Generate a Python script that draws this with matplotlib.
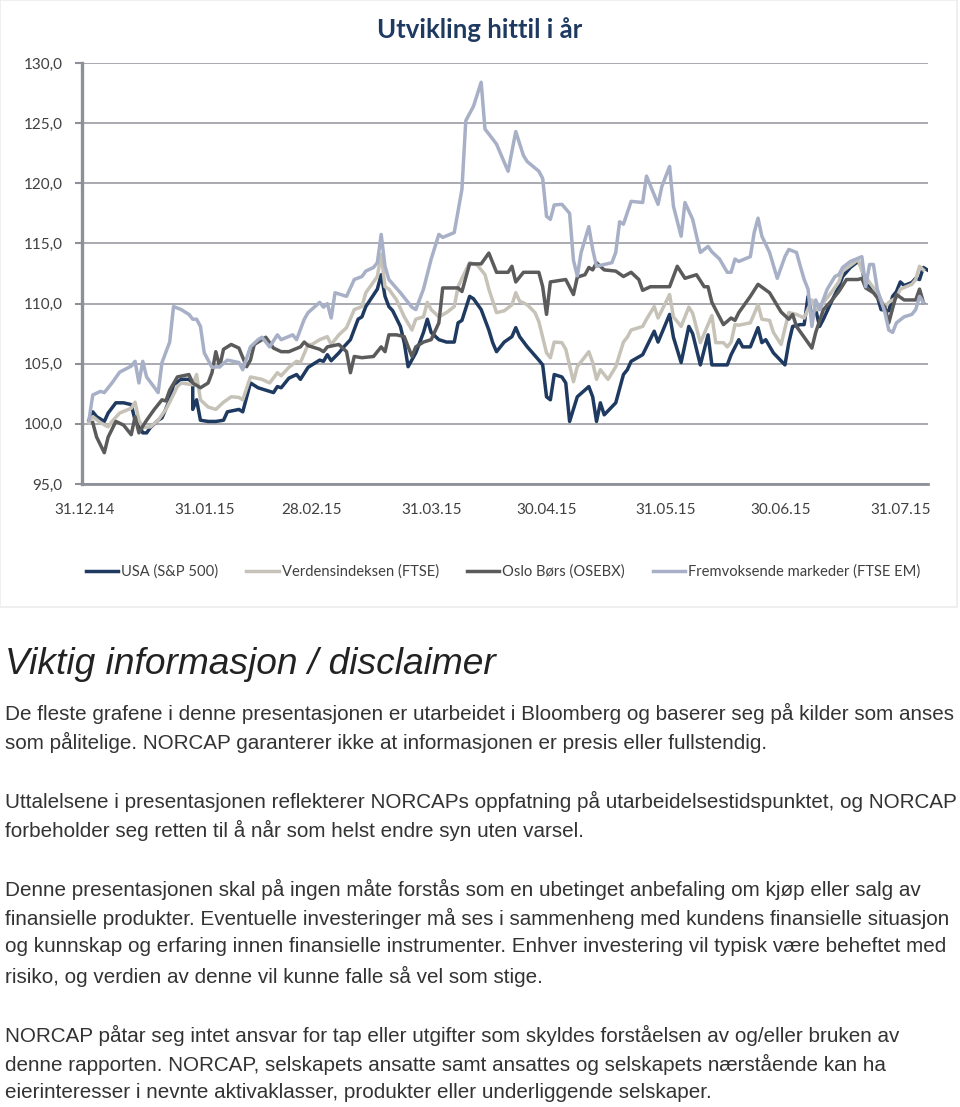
import datetime as dt

import matplotlib

matplotlib.use("Agg")
import matplotlib.pyplot as plt
from matplotlib.lines import Line2D
from matplotlib.patches import Rectangle

START = dt.datetime(2014, 12, 31)

# day offsets from 31.12.14 and index values
usa_days = [1, 2, 3, 5, 6, 8, 10, 12, 13, 14, 15, 16, 17, 19, 20, 22, 23, 25, 27, 28, 28, 29, 30,
            32, 34, 36, 37, 40, 41, 43, 45, 47, 49, 50, 51, 53, 55, 56, 58, 59, 61, 62, 63, 64,
            66, 67, 69, 71, 72, 73, 76, 77, 78, 79, 80, 82, 83, 84, 86, 88, 89, 90, 92, 94, 96,
            97, 98, 100, 101, 103, 105, 106, 107, 109, 111, 112, 113, 115, 118, 119, 120, 121,
            122, 124, 125, 126, 128, 131, 132, 133, 134, 135, 138, 140, 141, 142, 145, 146, 148,
            149, 152, 153, 155, 157, 158, 160, 162, 163, 167, 168, 170, 171, 173, 175, 176, 177,
            179, 182, 183, 184, 186, 187, 188, 189, 190, 191, 192, 194, 196, 197, 199, 201, 202,
            203, 204, 206, 207, 209, 210, 211, 212, 213, 215, 216, 217, 218, 219]
usa_vals = [100.3, 101.0, 100.6, 100.2, 100.9, 101.75, 101.75, 101.6, 100.3, 100.0, 99.25, 99.25,
            99.7, 100.3, 100.5, 102.0, 103.25, 103.7, 103.7, 103.4, 101.2, 102.0, 100.3, 100.2,
            100.2, 100.3, 101.0, 101.2, 101.0, 103.4, 103.0, 102.8, 102.6, 103.1, 103.0, 103.8,
            104.1, 103.7, 104.7, 104.9, 105.3, 105.2, 105.75, 105.25, 105.9, 106.3, 107.0, 108.7,
            108.9, 109.75, 111.2, 112.4, 110.6, 109.75, 109.4, 108.1, 106.75, 104.75, 105.9, 107.6,
            108.7, 107.6, 107.0, 106.8, 106.8, 108.4, 108.6, 110.6, 110.4, 109.5, 107.8, 106.75,
            106.0, 106.8, 107.25, 108.0, 107.25, 106.4, 105.3, 104.9, 102.25, 102.0, 104.1, 103.9,
            103.4, 100.2, 102.25, 103.1, 102.25, 100.2, 101.75, 100.75, 101.75, 104.1, 104.5,
            105.2, 105.75, 106.4, 107.7, 106.8, 109.1, 107.2, 105.1, 108.1, 107.5, 104.9, 107.4,
            104.9, 104.9, 105.75, 107.0, 106.4, 106.4, 108.0, 106.75, 107.0, 105.9, 104.9, 106.75,
            108.1, 108.25, 108.25, 110.6, 108.9, 109.5, 108.1, 108.7, 110.1, 111.4, 112.25, 113.0,
            113.5, 113.0, 111.4, 111.5, 110.6, 109.5, 109.4, 110.6, 111.0, 111.8, 111.5, 111.75,
            112.1, 112.0, 113.0, 112.8]

world_days = [1, 2, 4, 6, 7, 9, 12, 13, 14, 15, 17, 19, 21, 22, 24, 25, 28, 29, 30, 32, 33, 34,
              36, 38, 40, 41, 43, 46, 48, 50, 51, 53, 55, 56, 58, 59, 61, 63, 64, 66, 68, 70, 72,
              73, 76, 77, 78, 79, 81, 83, 85, 86, 88, 89, 90, 92, 94, 96, 97, 98, 100, 102, 104,
              105, 107, 109, 111, 112, 113, 115, 117, 118, 120, 121, 122, 124, 125, 127, 128, 131,
              132, 133, 134, 136, 138, 140, 141, 142, 145, 146, 148, 149, 152, 153, 155, 157, 158,
              160, 163, 164, 166, 167, 168, 169, 170, 173, 175, 176, 178, 179, 181, 183, 185, 187,
              189, 190, 191, 192, 194, 196, 197, 200, 201, 202, 204, 206, 208, 209, 211, 212, 215,
              216, 217, 218]
world_vals = [100.1, 100.6, 100.1, 99.75, 100.2, 100.9, 101.3, 101.8, 100.3, 99.7, 99.75, 100.3,
              101.2, 101.8, 103.1, 103.4, 103.25, 104.1, 102.0, 101.4, 101.3, 101.2, 101.8, 102.25,
              102.2, 102.0, 103.9, 103.7, 103.4, 104.25, 104.0, 104.7, 105.2, 105.1, 106.6, 106.6,
              107.0, 107.25, 106.6, 107.4, 108.0, 109.5, 109.75, 110.9, 112.25, 114.1, 111.4,
              111.2, 110.3, 108.9, 107.8, 108.7, 108.9, 110.1, 109.5, 108.9, 109.25, 109.75, 111.4,
              112.1, 113.4, 113.2, 112.4, 111.2, 109.25, 109.4, 109.9, 110.9, 110.2, 109.9, 109.25,
              108.5, 105.9, 105.5, 106.8, 106.75, 106.2, 103.5, 104.75, 106.0, 105.1, 103.7, 104.5,
              103.7, 104.75, 106.8, 107.2, 107.8, 108.1, 108.7, 109.75, 108.8, 110.75, 108.9, 108.1,
              109.7, 109.2, 106.75, 109.0, 106.75, 106.75, 106.4, 106.8, 108.25, 108.2, 108.4,
              109.9, 108.7, 108.6, 107.6, 106.6, 109.25, 109.1, 108.8, 110.3, 109.5, 109.5, 110.1,
              110.9, 111.8, 112.7, 113.4, 113.7, 112.7, 111.75, 110.9, 109.7, 110.1, 110.5, 111.2,
              111.6, 112.0, 113.1, 112.8]

oslo_days = [2, 3, 5, 6, 8, 10, 12, 13, 14, 15, 16, 18, 20, 21, 22, 24, 27, 28, 30, 32, 33, 34,
             35, 36, 38, 40, 42, 43, 44, 46, 47, 49, 51, 53, 56, 57, 58, 61, 62, 63, 66, 68, 69, 70,
             72, 75, 77, 78, 79, 81, 83, 85, 86, 88, 90, 92, 93, 97, 98, 100, 103, 105, 107, 110,
             111, 112, 114, 118, 119, 120, 121, 125, 127, 128, 130, 131, 132, 133, 135, 138, 140,
             142, 144, 145, 147, 152, 154, 156, 159, 161, 162, 163, 166, 168, 169, 170, 173, 175,
             178, 181, 183, 184, 185, 187, 189, 190, 192, 194, 196, 198, 201, 202, 203, 205, 206,
             208, 209, 210, 211, 213, 216, 217, 218]
oslo_vals = [100.1, 98.9, 97.6, 98.9, 100.2, 99.9, 99.1, 100.6, 99.25, 99.8, 100.3, 101.2, 102.0,
             101.9, 102.8, 103.9, 104.1, 103.4, 103.0, 103.4, 104.25, 106.0, 104.75, 106.2, 106.6,
             106.3, 104.75, 105.3, 106.6, 107.0, 107.2, 106.3, 106.0, 106.0, 106.4, 106.8, 106.5,
             106.2, 106.0, 106.4, 106.6, 106.0, 104.25, 105.6, 105.5, 105.6, 106.4, 106.0, 107.4,
             107.4, 107.25, 105.6, 106.4, 106.8, 107.0, 108.4, 111.3, 111.3, 111.0, 113.3, 113.3,
             114.2, 112.6, 112.6, 113.1, 111.8, 112.6, 112.6, 111.4, 109.1, 111.8, 112.0, 110.75,
             112.2, 112.4, 113.0, 112.8, 113.4, 112.8, 112.7, 112.25, 112.6, 112.0, 111.1, 111.4,
             111.4, 113.1, 112.1, 112.4, 111.4, 111.4, 110.1, 108.25, 108.8, 108.6, 109.25, 110.6,
             111.6, 110.9, 109.3, 108.7, 109.1, 108.1, 107.2, 106.3, 107.6, 109.5, 110.2, 111.0,
             112.0, 112.0, 112.1, 111.3, 110.9, 110.5, 109.7, 108.4, 109.6, 110.75, 110.3, 110.3,
             111.2, 110.1]

em_days = [1, 2, 4, 5, 7, 9, 12, 13, 14, 15, 16, 19, 20, 22, 23, 25, 27, 28, 29, 30, 31, 33, 35,
           37, 40, 41, 43, 45, 46, 48, 50, 51, 54, 55, 57, 58, 61, 62, 63, 64, 65, 68, 70, 72, 73,
           75, 76, 77, 78, 79, 82, 85, 86, 88, 90, 92, 93, 96, 98, 99, 101, 103, 104, 105, 107,
           110, 112, 114, 115, 118, 119, 120, 121, 122, 124, 126, 127, 128, 129, 131, 132, 133,
           135, 137, 138, 139, 140, 142, 145, 146, 149, 150, 152, 153, 155, 156, 158, 160, 162,
           163, 165, 167, 168, 169, 170, 173, 174, 175, 176, 178, 180, 182, 183, 185, 186, 187,
           188, 189, 190, 191, 193, 195, 196, 197, 199, 202, 203, 204, 205, 206, 208, 209, 210,
           211, 213, 215, 216, 217, 218]
em_vals = [100.3, 102.4, 102.7, 102.6, 103.4, 104.3, 104.8, 105.2, 103.4, 105.2, 103.9, 102.6,
           105.1, 106.8, 109.75, 109.5, 109.1, 108.7, 108.7, 108.1, 105.9, 104.7, 104.75, 105.3,
           105.1, 104.5, 106.4, 107.0, 107.2, 106.4, 107.4, 107.0, 107.4, 107.0, 108.7, 109.25,
           110.1, 109.7, 110.0, 108.8, 110.9, 110.6, 112.0, 112.25, 112.7, 113.0, 113.4, 115.75,
           113.1, 112.0, 110.9, 109.7, 109.5, 111.2, 113.7, 115.75, 115.5, 115.9, 119.5, 125.2,
           126.4, 128.4, 124.5, 124.1, 123.25, 121.0, 124.3, 122.3, 121.8, 121.0, 120.4, 117.25,
           117.0, 118.2, 118.25, 117.5, 113.6, 112.3, 114.25, 116.4, 114.5, 113.1, 113.25, 113.4,
           114.25, 116.8, 116.6, 118.5, 118.4, 120.6, 118.25, 119.75, 121.4, 118.1, 115.6, 118.4,
           117.0, 114.25, 114.75, 114.3, 113.7, 112.6, 112.6, 113.7, 113.5, 113.9, 115.9, 117.1,
           115.6, 114.25, 112.1, 113.9, 114.5, 114.25, 113.1, 112.0, 111.2, 108.1, 110.3, 109.5,
           111.2, 112.25, 112.4, 113.0, 113.5, 113.9, 111.4, 113.25, 113.25, 111.2, 109.25, 107.8,
           107.6, 108.4, 108.9, 109.1, 109.5, 110.6, 110.1]

series_names = ["USA (S&P 500)", "Verdensindeksen (FTSE)", "Oslo Børs (OSEBX)",
                "Fremvoksende markeder (FTSE EM)"]
tick_labels = ["31.12.14", "31.01.15", "28.02.15", "31.03.15", "30.04.15", "31.05.15",
               "30.06.15", "31.07.15"]
y_ticks = [95, 100, 105, 110, 115, 120, 125, 130]

title = "Utvikling hittil i år"
heading = "Viktig informasjon / disclaimer"
disclaimer = [
    ["De fleste grafene i denne presentasjonen er utarbeidet i Bloomberg og baserer seg på kilder som anses",
     "som pålitelige. NORCAP garanterer ikke at informasjonen er presis eller fullstendig."],
    ["Uttalelsene i presentasjonen reflekterer NORCAPs oppfatning på utarbeidelsestidspunktet, og NORCAP",
     "forbeholder seg retten til å når som helst endre syn uten varsel."],
    ["Denne presentasjonen skal på ingen måte forstås som en ubetinget anbefaling om kjøp eller salg av",
     "finansielle produkter. Eventuelle investeringer må ses i sammenheng med kundens finansielle situasjon",
     "og kunnskap og erfaring innen finansielle instrumenter. Enhver investering vil typisk være beheftet med",
     "risiko, og verdien av denne vil kunne falle så vel som stige."],
    ["NORCAP påtar seg intet ansvar for tap eller utgifter som skyldes forståelsen av og/eller bruken av",
     "denne rapporten. NORCAP, selskapets ansatte samt ansattes og selskapets nærstående kan ha",
     "eierinteresser i nevnte aktivaklasser, produkter eller underliggende selskaper."],
]

colors = ["#1F3A60", "#C6C2B8", "#5B5B5B", "#A7B0C6"]
chart_font = ["Lato", "DejaVu Sans"]
W, H = 960, 1107


def to_dates(days):
    return [START + dt.timedelta(days=d) for d in days]


fig = plt.figure(figsize=(W / 100, H / 100), dpi=100)
fig.patch.set_facecolor("white")

# light frame around the chart image
fig.add_artist(Rectangle((0, 1 - 607 / H), 957 / W, 607 / H, transform=fig.transFigure,
                         fill=False, edgecolor="#ECECEC", lw=1.2))

ax = fig.add_axes([82 / W, 1 - 484 / H, (928 - 82) / W, (484 - 63) / H])

series = [(usa_days, usa_vals), (world_days, world_vals), (oslo_days, oslo_vals),
          (em_days, em_vals)]
for i in [3, 1, 2, 0]:
    days, vals = series[i]
    ax.plot(to_dates(days), vals, color=colors[i], lw=2.5, zorder=3 + i)

ax.set_ylim(95, 130)
ax.set_xlim(START - dt.timedelta(days=0.8), START + dt.timedelta(days=219.2))
ax.set_yticks(y_ticks)
ax.set_yticklabels([f"{v:.1f}".replace(".", ",") for v in y_ticks], family=chart_font,
                   fontsize=11, color="#404040")
tick_pos = [dt.datetime.strptime(t, "%d.%m.%y") for t in tick_labels]
ax.set_xticks(tick_pos)
ax.set_xticklabels(tick_labels, family=chart_font, fontsize=11, color="#404040")

ax.grid(axis="y", color="#A9A9B0", lw=1.4)
ax.set_axisbelow(True)
for side in ["top", "right"]:
    ax.spines[side].set_visible(False)
ax.spines["left"].set_color("#8E9099")
ax.spines["left"].set_linewidth(2.4)
ax.spines["bottom"].set_color("#8E9099")
ax.spines["bottom"].set_linewidth(2.0)
ax.tick_params(axis="y", length=5, width=1.5, color="#8E9099", pad=9)
ax.tick_params(axis="x", length=0, pad=14)

fig.text(480 / W, 1 - 30 / H, title, ha="center", va="center", family=chart_font,
         fontsize=18.5, fontweight="bold", color="#1F3A60")

handles = [Line2D([], [], color=c, lw=2.5) for c in colors]
fig.legend(handles, series_names, loc="center", bbox_to_anchor=(503 / W, 1 - 572 / H),
           ncol=4, frameon=False, prop={"family": chart_font, "size": 10.6},
           handlelength=2.2, handletextpad=0.2, columnspacing=1.9, labelcolor="#404040")

# disclaimer text below the chart
fig.text(5 / W, 1 - 665 / H, heading, ha="left", va="center", fontsize=26.7, style="italic",
         family="Liberation Sans", color="#222222")
y = 713
for para in disclaimer:
    for line in para:
        fig.text(5 / W, 1 - y / H, line, ha="left", va="center", fontsize=14.85,
                 family="Liberation Sans", color="#333333")
        y += 29
    y += 30

fig.savefig("out.png", dpi=100, facecolor="white")
